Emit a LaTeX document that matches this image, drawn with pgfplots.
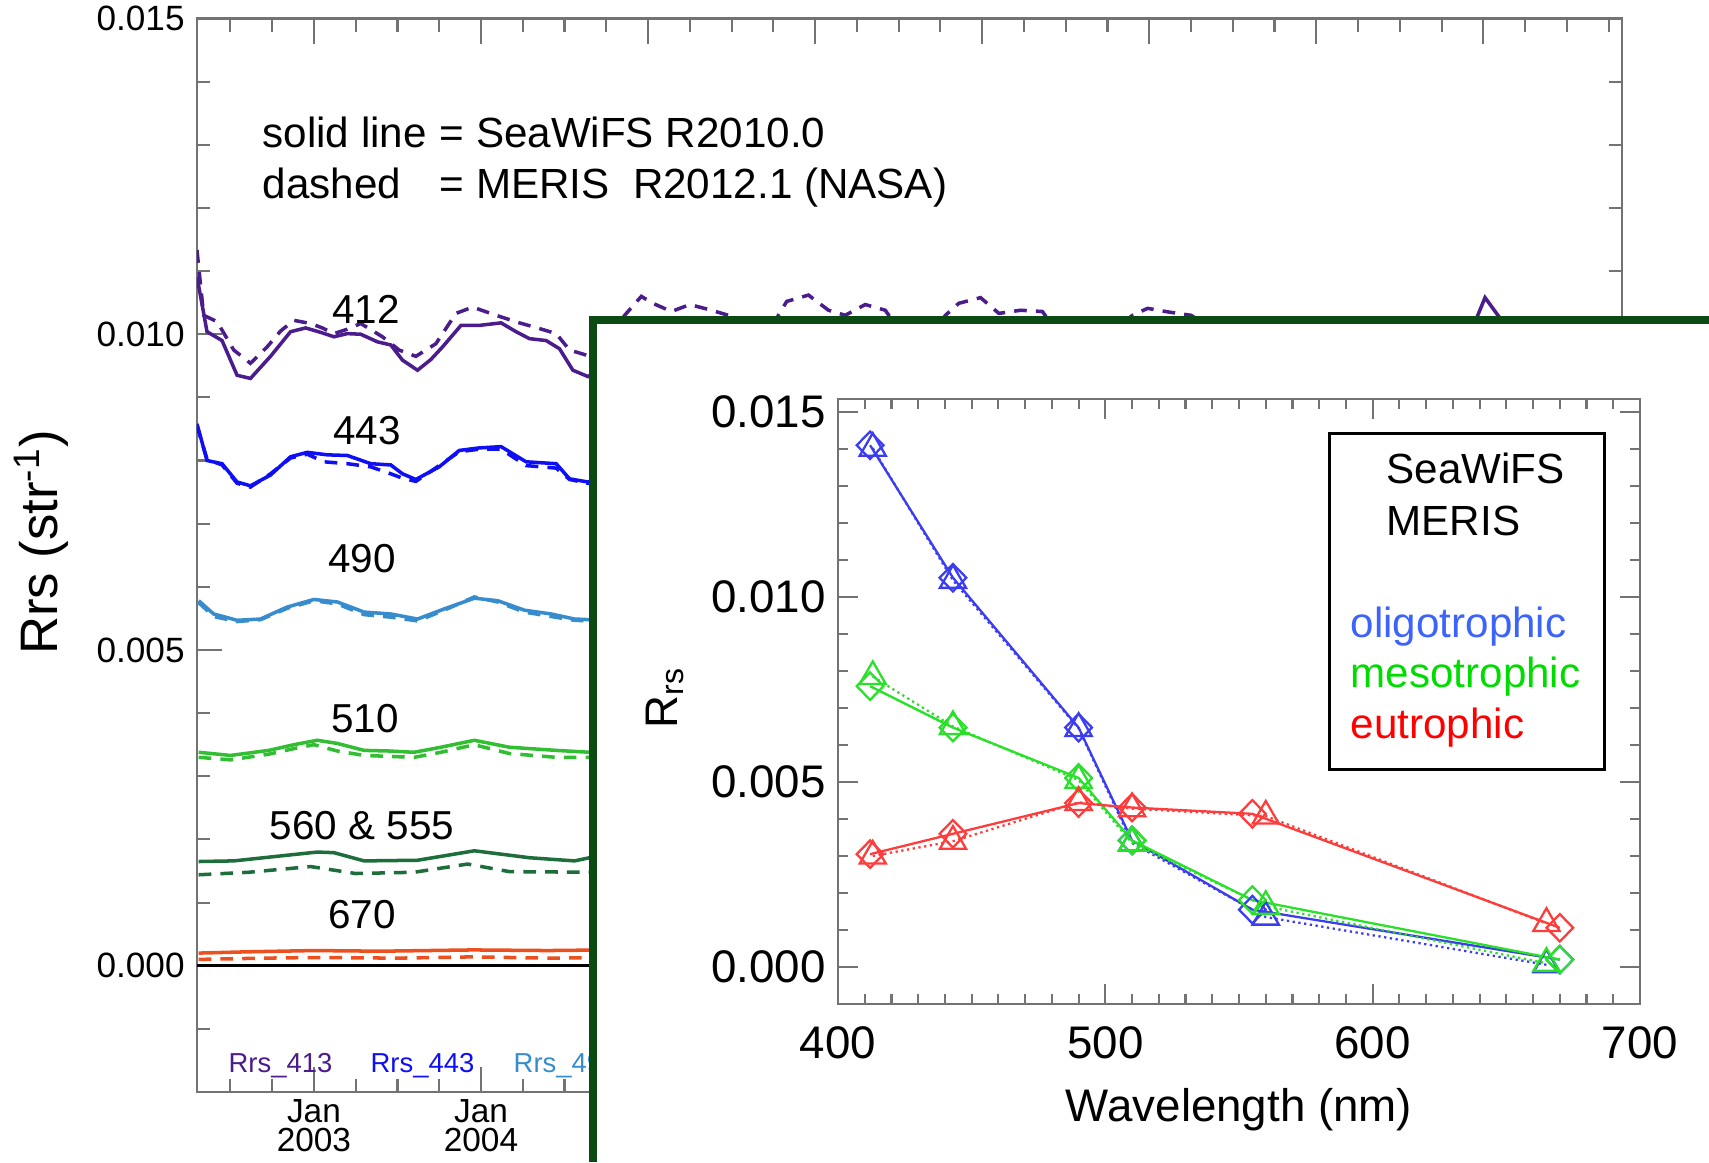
\documentclass[border=0pt]{standalone}
\usepackage{fontspec}
\setmainfont{Liberation Sans}
\usepackage{pgfplots}
\pgfplotsset{compat=1.18}

% main panel colours
\definecolor{c412}{RGB}{75,28,140}
\definecolor{c443}{RGB}{15,15,245}
\definecolor{c490}{RGB}{55,140,205}
\definecolor{c510}{RGB}{50,190,50}
\definecolor{c555}{RGB}{30,110,60}
\definecolor{c670}{RGB}{235,80,30}
% inset colours
\definecolor{iblue}{RGB}{60,60,240}
\definecolor{igreen}{RGB}{40,225,40}
\definecolor{ired}{RGB}{255,60,60}
\definecolor{frame}{RGB}{12,74,20}

\tikzset{dsh/.style={dash pattern=on 3.6pt off 2.6pt}}

\begin{document}
\begin{tikzpicture}
\useasboundingbox (0,0) rectangle (17.09,11.62);
\fill[white] (0,0) rectangle (17.09,11.62);

% ---------------- time series panel ----------------
% (labels of the later years lie under the inset, so they are left empty)
\begin{axis}[
    at={(1.97cm,0.70cm)}, anchor=south west,
    scale only axis, width=14.25cm, height=10.735cm,
    xmin=2002.30, xmax=2010.83,
    ymin=-0.002, ymax=0.015,
    axis line style={draw=black!55, line width=0.6pt},
    tick style={draw=black!55, line width=0.6pt},
    major tick length=0.25cm, minor tick length=0.13cm,
    xtick={2003,2004,2005,2006,2007,2008,2009,2010},
    xticklabels={{Jan\\2003},{Jan\\2004},{},{},{},{},{},{}},
    xticklabel style={align=center, font=\fontsize{9.5}{8.4}\selectfont, yshift=0.05cm},
    minor xtick={2002.5,2002.75,...,2010.75},
    scaled y ticks=false,
    ytick={0,0.005,0.010,0.015},
    yticklabels={0.000,0.005,0.010,0.015},
    yticklabel style={font=\fontsize{10}{12}\selectfont},
    minor ytick={-0.002,-0.001,0.001,0.002,0.003,0.004,0.006,0.007,0.008,0.009,0.011,0.012,0.013,0.014},
    ylabel={Rrs (str\textsuperscript{-1})},
    ylabel style={at={(axis description cs:-0.1095,0.512)}, anchor=center, font=\fontsize{15}{18}\selectfont},
]
% 412 SeaWiFS
\addplot[c412, line width=1pt] coordinates {
(2002.30,0.01091) (2002.36,0.01004) (2002.45,0.00990) (2002.54,0.00935) (2002.62,0.00930)
(2002.74,0.00965) (2002.86,0.01004) (2002.95,0.01010) (2003.04,0.01003) (2003.12,0.00996)
(2003.20,0.01001) (2003.28,0.01000) (2003.38,0.00988) (2003.46,0.00983) (2003.53,0.00959)
(2003.62,0.00943) (2003.70,0.00960) (2003.77,0.00980) (2003.88,0.01014) (2003.99,0.01014)
(2004.12,0.01018) (2004.21,0.01004) (2004.29,0.00993) (2004.39,0.00990) (2004.47,0.00977)
(2004.55,0.00943) (2004.64,0.00933) (2004.75,0.00950) (2004.88,0.00995) (2005.00,0.01015)
(2005.12,0.01005) (2005.29,0.00995) (2005.45,0.00975) (2005.62,0.00940) (2005.75,0.00960)
(2005.92,0.01010) (2006.04,0.01015) (2006.21,0.01000) (2006.38,0.00990) (2006.54,0.00950)
(2006.67,0.00945) (2006.83,0.00985) (2006.96,0.01018) (2007.12,0.01005) (2007.29,0.00995)
(2007.46,0.00970) (2007.62,0.00940) (2007.79,0.00975) (2007.96,0.01012) (2008.12,0.01005)
(2008.29,0.00990) (2008.46,0.00965) (2008.62,0.00935) (2008.79,0.00970) (2008.96,0.01005)
(2009.12,0.00998) (2009.29,0.00985) (2009.46,0.00960) (2009.62,0.00935) (2009.79,0.00975)
(2009.92,0.01000) (2010.01,0.01058) (2010.17,0.01000) (2010.38,0.00985) (2010.54,0.00955)
(2010.67,0.00940) (2010.83,0.00965)
};
% 412 MERIS
\addplot[c412, line width=1pt, dsh] coordinates {
(2002.30,0.01133) (2002.34,0.01030) (2002.42,0.01020) (2002.52,0.00975) (2002.62,0.00954)
(2002.72,0.00980) (2002.80,0.01005) (2002.88,0.01022) (2002.98,0.01017) (2003.05,0.01010)
(2003.12,0.01001) (2003.20,0.01008) (2003.28,0.01017) (2003.41,0.00996) (2003.51,0.00975)
(2003.61,0.00965) (2003.73,0.00985) (2003.85,0.01033) (2003.95,0.01043) (2004.09,0.01030)
(2004.23,0.01018) (2004.35,0.01009) (2004.45,0.01001) (2004.53,0.00975) (2004.63,0.00967)
(2004.75,0.00990) (2004.86,0.01030) (2004.96,0.01060) (2005.02,0.01050) (2005.14,0.01036)
(2005.25,0.01047) (2005.38,0.01038) (2005.48,0.01030) (2005.58,0.00990) (2005.70,0.00980)
(2005.78,0.01030) (2005.83,0.01052) (2005.96,0.01062) (2006.08,0.01038) (2006.18,0.01030)
(2006.30,0.01047) (2006.42,0.01038) (2006.52,0.01000) (2006.65,0.00985) (2006.78,0.01030)
(2006.86,0.01049) (2006.99,0.01058) (2007.10,0.01033) (2007.23,0.01038) (2007.36,0.01036)
(2007.46,0.01000) (2007.62,0.00980) (2007.80,0.01010) (2007.90,0.01030) (2007.99,0.01041)
(2008.12,0.01035) (2008.25,0.01030) (2008.40,0.01005) (2008.60,0.00975) (2008.80,0.00995)
(2009.00,0.01020) (2009.20,0.01010) (2009.40,0.00995) (2009.60,0.00970) (2009.80,0.00995)
(2010.00,0.01020) (2010.20,0.01010) (2010.40,0.00990) (2010.60,0.00965) (2010.83,0.00985)
};
% 443
\addplot[c443, line width=1pt] coordinates {
(2002.30,0.00858) (2002.36,0.00800) (2002.45,0.00795) (2002.54,0.00766) (2002.62,0.00760)
(2002.74,0.00777) (2002.86,0.00806) (2002.96,0.00813) (2003.08,0.00809) (2003.20,0.00808)
(2003.34,0.00795) (2003.46,0.00793) (2003.53,0.00779) (2003.61,0.00770) (2003.75,0.00790)
(2003.87,0.00816) (2003.99,0.00820) (2004.12,0.00822) (2004.27,0.00798) (2004.45,0.00795)
(2004.53,0.00771) (2004.64,0.00766) (2004.75,0.00775)
};
\addplot[c443, line width=1pt, dsh] coordinates {
(2002.30,0.00855) (2002.36,0.00802) (2002.45,0.00793) (2002.54,0.00764) (2002.62,0.00758)
(2002.74,0.00779) (2002.86,0.00804) (2002.96,0.00810) (2003.06,0.00798) (2003.20,0.00795)
(2003.34,0.00790) (2003.46,0.00779) (2003.53,0.00772) (2003.61,0.00767) (2003.75,0.00792)
(2003.87,0.00814) (2003.99,0.00818) (2004.12,0.00818) (2004.27,0.00792) (2004.45,0.00788)
(2004.53,0.00770) (2004.64,0.00764) (2004.75,0.00772)
};
% 490
\addplot[c490, line width=1pt] coordinates {
(2002.31,0.00578) (2002.40,0.00557) (2002.54,0.00547) (2002.68,0.00549) (2002.84,0.00568)
(2003.00,0.00580) (2003.14,0.00576) (2003.30,0.00560) (2003.46,0.00557) (2003.62,0.00549)
(2003.78,0.00565) (2003.96,0.00582) (2004.10,0.00578) (2004.26,0.00563) (2004.42,0.00557)
(2004.56,0.00549) (2004.65,0.00548) (2004.75,0.00552)
};
\addplot[c490, line width=1pt, dsh] coordinates {
(2002.31,0.00575) (2002.40,0.00553) (2002.54,0.00545) (2002.68,0.00548) (2002.84,0.00566)
(2003.00,0.00578) (2003.14,0.00573) (2003.30,0.00556) (2003.46,0.00552) (2003.62,0.00546)
(2003.78,0.00563) (2003.96,0.00584) (2004.10,0.00576) (2004.26,0.00560) (2004.42,0.00553)
(2004.56,0.00547) (2004.65,0.00546) (2004.75,0.00550)
};
% 510
\addplot[c510, line width=1pt] coordinates {
(2002.31,0.00338) (2002.50,0.00333) (2002.73,0.00341) (2002.88,0.00350) (2003.02,0.00357)
(2003.14,0.00352) (2003.30,0.00341) (2003.45,0.00340) (2003.60,0.00338) (2003.76,0.00346)
(2003.96,0.00357) (2004.17,0.00346) (2004.45,0.00341) (2004.65,0.00338) (2004.75,0.00340)
};
\addplot[c510, line width=1pt, dsh] coordinates {
(2002.31,0.00330) (2002.50,0.00326) (2002.73,0.00335) (2002.90,0.00345) (2003.00,0.00350)
(2003.14,0.00340) (2003.30,0.00333) (2003.60,0.00330) (2003.76,0.00338) (2003.96,0.00350)
(2004.17,0.00336) (2004.45,0.00330) (2004.65,0.00330) (2004.75,0.00332)
};
% 555 / 560
\addplot[c555, line width=1pt] coordinates {
(2002.31,0.00165) (2002.52,0.00166) (2002.77,0.00173) (2003.02,0.00180) (2003.12,0.00179)
(2003.30,0.00166) (2003.62,0.00167) (2003.96,0.00182) (2004.29,0.00171) (2004.56,0.00166)
(2004.65,0.00171) (2004.75,0.00172)
};
\addplot[c555, line width=1pt, dsh] coordinates {
(2002.31,0.00144) (2002.61,0.00148) (2002.98,0.00157) (2003.25,0.00146) (2003.60,0.00148)
(2003.92,0.00161) (2004.17,0.00149) (2004.65,0.00148) (2004.75,0.00149)
};
% 670
\addplot[c670, line width=1pt] coordinates {
(2002.31,0.00020) (2002.60,0.00022) (2003.00,0.00024) (2003.40,0.00023) (2003.95,0.00025)
(2004.40,0.00024) (2004.75,0.00025)
};
\addplot[c670, line width=1pt, dsh] coordinates {
(2002.31,0.00010) (2002.70,0.00012) (2003.00,0.00013) (2003.50,0.00012) (2003.95,0.00014)
(2004.40,0.00012) (2004.75,0.00013)
};
% zero line
\addplot[black, line width=0.9pt] coordinates {(2002.30,0) (2010.83,0)};
\end{axis}

% annotations of the time series panel
\node[anchor=base west, inner sep=0, font=\fontsize{12}{14}\selectfont] at (2.62,10.15) {solid line};
\node[anchor=base west, inner sep=0, font=\fontsize{12}{14}\selectfont] at (4.39,10.15) {= SeaWiFS R2010.0};
\node[anchor=base west, inner sep=0, font=\fontsize{12}{14}\selectfont] at (2.62,9.64) {dashed};
\node[anchor=base west, inner sep=0, font=\fontsize{12}{14}\selectfont] at (4.39,9.64) {= MERIS\ \ R2012.1 (NASA)};
\begin{scope}[every node/.style={inner sep=0, font=\fontsize{11.5}{14}\selectfont}]
\node at (3.66,8.53) {412};
\node at (3.67,7.31) {443};
\node at (3.62,6.03) {490};
\node at (3.65,4.43) {510};
\node at (3.62,3.36) {560 \& 555};
\node at (3.62,2.47) {670};
\end{scope}
\begin{scope}[every node/.style={inner sep=0, anchor=base west, font=\fontsize{7.8}{9}\selectfont}]
\node[text=c412] at (2.28,0.90) {Rrs\_413};
\node[text=c443] at (3.70,0.90) {Rrs\_443};
\node[text=c490] at (5.13,0.90) {Rrs\_490};
\end{scope}

% ---------------- inset ----------------
\fill[white] (5.93,0) rectangle (17.09,8.42);
\draw[frame, line width=0.08cm] (5.93,0) -- (5.93,8.42) -- (17.09,8.42);

\begin{axis}[
    at={(8.38cm,1.58cm)}, anchor=south west,
    scale only axis, width=8.02cm, height=6.05cm,
    xmin=400, xmax=700, ymin=-0.001, ymax=0.01535,
    axis line style={draw=black!55, line width=0.6pt},
    tick style={draw=black!55, line width=0.6pt},
    major tick length=0.2cm, minor tick length=0.1cm,
    xtick={400,500,600,700},
    xticklabels={400,500,600,700},
    minor xtick={410,420,...,690},
    scaled y ticks=false,
    ytick={0,0.005,0.010,0.015},
    yticklabels={0.000,0.005,0.010,0.015},
    minor ytick={-0.001,0.001,0.002,0.003,0.004,0.006,0.007,0.008,0.009,0.011,0.012,0.013,0.014,0.015},
    tick label style={font=\fontsize{13}{15}\selectfont},
    xticklabel style={yshift=-0.22cm, inner sep=0pt},
    xlabel={Wavelength (nm)},
    xlabel style={at={(axis description cs:0.5,-0.174)}, anchor=center, inner sep=0pt, font=\fontsize{13}{15}\selectfont},
    ylabel={R\textsubscript{rs}},
    ylabel style={at={(axis description cs:-0.216,0.506)}, anchor=center, font=\fontsize{13}{15}\selectfont},
    every axis plot/.append style={line width=0.65pt},
]
% SeaWiFS: solid with diamonds; MERIS: dotted with triangles
\addplot[iblue, mark=diamond, mark size=3.9pt, mark options={solid, xscale=1.3}] coordinates {
(412,0.01410) (443,0.01052) (490,0.00647) (510,0.00342) (555,0.00155) (670,0.00020)};
\addplot[iblue, densely dotted, mark=triangle, mark size=4.3pt, mark options={solid}] coordinates {
(413,0.01402) (443,0.01045) (490,0.00645) (510,0.00335) (560,0.00135) (665,0.00006)};
\addplot[igreen, mark=diamond, mark size=3.9pt, mark options={solid, xscale=1.3}] coordinates {
(412,0.00759) (443,0.00647) (490,0.00511) (510,0.00342) (555,0.00181) (670,0.00020)};
\addplot[igreen, densely dotted, mark=triangle, mark size=4.3pt, mark options={solid}] coordinates {
(413,0.00785) (443,0.00650) (490,0.00505) (510,0.00335) (560,0.00164) (665,0.00010)};
\addplot[ired, mark=diamond, mark size=3.9pt, mark options={solid, xscale=1.3}] coordinates {
(412,0.00305) (443,0.00360) (490,0.00443) (510,0.00431) (555,0.00414) (670,0.00106)};
\addplot[ired, densely dotted, mark=triangle, mark size=4.3pt, mark options={solid}] coordinates {
(413,0.00300) (443,0.00340) (490,0.00445) (510,0.00428) (560,0.00408) (665,0.00118)};
\end{axis}

% inset legend box
\draw[black, line width=0.03cm] (13.29,3.93) rectangle (16.04,7.29);
\begin{scope}[every node/.style={inner sep=0, anchor=base west, font=\fontsize{12}{14}\selectfont}]
\node at (13.86,6.79) {SeaWiFS};
\node at (13.86,6.27) {MERIS};
\node[text={rgb,255:red,60;green,100;blue,250}] at (13.50,5.25) {oligotrophic};
\node[text={rgb,255:red,0;green,220;blue,0}] at (13.50,4.75) {mesotrophic};
\node[text=red] at (13.50,4.24) {eutrophic};
\end{scope}
\end{tikzpicture}
\end{document}
